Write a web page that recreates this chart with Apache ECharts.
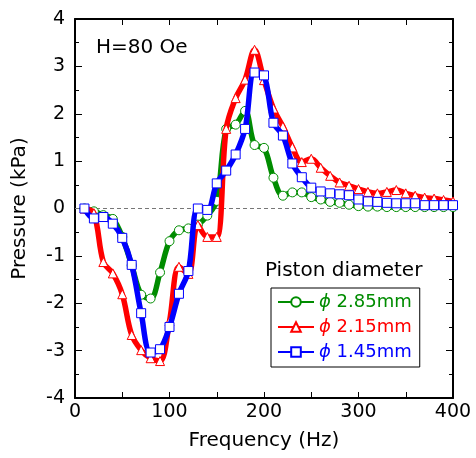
<!DOCTYPE html>
<html lang="en">
<head>
	<meta charset="utf-8">
	<title>Pressure vs frequency</title>
	<script type="text/javascript" src="https://cdn.jsdelivr.net/npm/echarts@6/dist/echarts.min.js"></script>
	<style type="text/css">
		html, body { margin: 0; padding: 0; background: #fff; }
		#chartmain { width: 476px; height: 458px; }
	</style>
</head>
<body>
	<div id="chartmain"></div>
	<script type="text/javascript">

		// frequency (Hz), 10..400 step 10
		var freq = [10,20,30,40,50,60,70,80,90,100,110,120,130,140,150,160,170,180,190,200,
			210,220,230,240,250,260,270,280,290,300,310,320,330,340,350,360,370,380,390,400];

		// pressure (kPa)
		var p285 = [0,-0.06,-0.14,-0.22,-0.6,-1.2,-1.82,-1.9,-1.35,-0.69,-0.46,-0.42,-0.34,-0.15,0.16,1.68,1.77,2.06,1.34,1.28,
			0.65,0.27,0.34,0.34,0.24,0.19,0.14,0.12,0.08,0.05,0.04,0.04,0.03,0.03,0.03,0.03,0.03,0.03,0.03,0.03];
		var p215 = [0,-0.1,-1.13,-1.37,-1.81,-2.67,-2.99,-3.16,-3.22,-2.38,-1.23,-1.38,-0.35,-0.6,-0.6,1.68,2.33,2.72,3.35,2.71,
			2.11,1.73,1.29,0.98,1.05,0.86,0.69,0.55,0.48,0.41,0.35,0.32,0.35,0.39,0.32,0.27,0.23,0.21,0.18,0.15];
		var p145 = [0,-0.21,-0.18,-0.32,-0.62,-1.19,-2.21,-3.04,-2.97,-2.5,-1.8,-1.32,0,-0.03,0.53,0.8,1.14,1.68,2.87,2.81,
			1.81,1.54,0.95,0.66,0.44,0.36,0.32,0.3,0.28,0.19,0.15,0.14,0.12,0.11,0.11,0.11,0.07,0.07,0.07,0.07];

		var names = ['ϕ 2.85mm', 'ϕ 2.15mm', 'ϕ 1.45mm'];
		var colors = ['#008c00', '#ff0000', '#0000ff'];
		var symbols = ['circle', 'triangle', 'rect'];

		function pairs(ys) {
			return freq.map(function (f, i) { return [f, ys[i]]; });
		}

		var font = 'DejaVu Sans';
		var myChart = echarts.init(document.getElementById('chartmain'));

		var series = [p285, p215, p145].map(function (ys, k) {
			return {
				name: names[k],
				type: 'line',
				smooth: 0.35,
				data: pairs(ys),
				symbol: symbols[k],
				symbolSize: 9,
				lineStyle: { color: colors[k], width: 5.5 },
				itemStyle: { color: '#fff', borderColor: colors[k], borderWidth: 1 },
				z: 3 + k
			};
		});

		series[0].markLine = {
			silent: true,
			symbol: 'none',
			label: { show: false },
			lineStyle: { color: '#777', type: [4, 3], width: 1 },
			data: [{ yAxis: 0 }],
			z: 1
		};

		var axisTextStyle = { color: '#000', fontFamily: font, fontSize: 19 };
		var line = { onZero: false, lineStyle: { color: '#000', width: 2 } };

		option = {
			animation: false,
			grid: { left: 75, right: 23, top: 19, bottom: 60 },
			legend: {
				orient: 'vertical',
				left: 271,
				top: 288,
				padding: [5, 8, 6, 6],
				itemGap: 7,
				itemWidth: 36,
				itemHeight: 12,
				borderColor: '#000',
				borderWidth: 1,
				data: names.map(function (n, k) {
					return { name: n, textStyle: { color: colors[k] } };
				}),
				formatter: function (n) {
					return '{i|ϕ}{t|' + n.slice(1) + '}';
				},
				textStyle: {
					fontFamily: font,
					fontSize: 18,
					rich: {
						i: { fontFamily: font, fontStyle: 'italic', fontSize: 18 },
						t: { fontFamily: font, fontSize: 18 }
					}
				}
			},
			graphic: [
				{ type: 'text', left: 96, top: 38, style: { text: 'H=80 Oe', font: '20px "DejaVu Sans"', fill: '#000' } },
				{ type: 'text', left: 265, top: 261, style: { text: 'Piston diameter', font: '20px "DejaVu Sans"', fill: '#000' } }
			],
			xAxis: [{
				type: 'value', min: 0, max: 400, interval: 50,
				name: 'Frequency (Hz)', nameLocation: 'middle', nameGap: 33,
				nameTextStyle: Object.assign({}, axisTextStyle, { fontSize: 20 }),
				axisLine: line,
				axisTick: { inside: true, length: 6, lineStyle: { color: '#000', width: 1 } },
				axisLabel: Object.assign({ margin: 5, formatter: function (v) { return v % 100 === 0 ? v : ''; } }, axisTextStyle),
				splitLine: { show: false }
			}, {
				type: 'value', min: 0, max: 400, interval: 50, position: 'top',
				axisLine: line,
				axisTick: { inside: true, length: 6, lineStyle: { color: '#000', width: 1 } },
				axisLabel: { show: false },
				splitLine: { show: false }
			}],
			yAxis: [{
				type: 'value', min: -4, max: 4, interval: 1,
				name: 'Pressure (kPa)', nameLocation: 'middle', nameGap: 45,
				nameTextStyle: Object.assign({}, axisTextStyle, { fontSize: 20 }),
				axisLine: line,
				axisTick: { inside: true, length: 7, lineStyle: { color: '#000', width: 1 } },
				minorTick: { show: true, splitNumber: 2, length: 4, lineStyle: { color: '#000', width: 1 } },
				axisLabel: Object.assign({ margin: 10 }, axisTextStyle),
				splitLine: { show: false }
			}, {
				type: 'value', min: -4, max: 4, interval: 1, position: 'right',
				axisLine: { show: true, onZero: false, lineStyle: { color: '#000', width: 2 } },
				axisTick: { show: true, inside: true, length: 7, lineStyle: { color: '#000', width: 1 } },
				minorTick: { show: true, splitNumber: 2, length: 4, lineStyle: { color: '#000', width: 1 } },
				axisLabel: { show: false },
				splitLine: { show: false }
			}],
			series: series
		};

		myChart.setOption(option);

	</script>
</body>
</html>
